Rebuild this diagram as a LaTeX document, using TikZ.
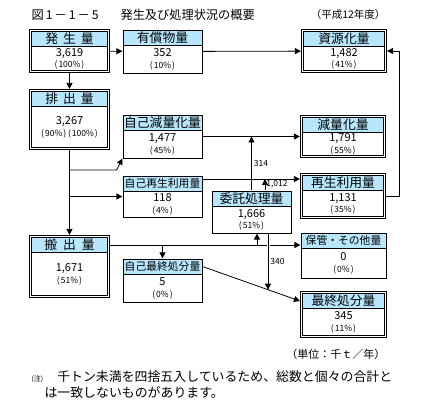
\documentclass[tikz,border=0pt]{standalone}
\usepackage{fontspec}
\setmainfont{Noto Sans CJK JP}
\usetikzlibrary{arrows.meta,calc,fit,positioning}
\definecolor{headblue}{RGB}{184,230,252}
\tikzset{
  frame/.style={draw, line width=.8pt, fill=white, inner sep=0pt},
  head/.style={draw, line width=.8pt, fill=headblue, inner sep=0pt, minimum height=15pt, font=\fontsize{12.8}{13}\selectfont},
  body/.style={align=center, inner sep=0pt, font=\fontsize{11}{11.5}\selectfont},
  sbox/.style={inner sep=0pt},
  dbox/.style={draw, line width=.8pt, inner sep=1.8pt},
  arr/.style={-{Triangle[length=6pt,width=6pt]}, line width=.8pt},
  lbl/.style={font=\fontsize{8.5}{9}\selectfont, inner sep=2pt},
}
\newcommand{\pc}[1]{{\fontsize{8.5}{9}\selectfont(\kern1pt#1\%\kern1pt)}}
\newcommand{\narrow}{\fontsize{10.8}{11}\selectfont}
% box: [sbox/dbox]{name}{center}{width}{height}{header}{body}
\newcommand{\flowbox}[7][sbox]{%
  \node[frame, minimum width=#4, minimum height=#5] (#2-in) at (#3) {};
  \node[head, minimum width=#4, anchor=north] (#2-h) at (#2-in.north) {#6};
  \node[body] (#2-t) at ($(#2-h.south)!.5!(#2-in.south)$) {#7};
  \node[#1, fit=(#2-in)] (#2) {};
}
\begin{document}
\begin{tikzpicture}[x=1pt, y=-1pt]
\useasboundingbox (0,0) rectangle (431,411);

\node[anchor=west, font=\fontsize{12.2}{12}\selectfont] (title) at (28,15) {図\,1\,－\,1\,－\,5\hspace{1.8em}発生及び処理状況の概要};
\node[anchor=east, font=\fontsize{10.5}{11}\selectfont] (year) at (389,15) {（平成12年度）};

\flowbox[dbox]{hassei}{69.5,51}{76}{39}{発\hspace{5pt}生\hspace{5pt}量}{3,619\\\pc{100}}
\flowbox{yusho}{162.5,51.5}{79}{43}{有償物量}{352\\\pc{10}}
\flowbox[dbox]{shigen}{344,51}{81}{39}{資源化量}{1,482\\\pc{41}}
\flowbox[dbox]{haishutsu}{69.5,119.5}{76}{56}{排\hspace{5pt}出\hspace{5pt}量}{3,267\\\pc{90}\,\pc{100}}
\flowbox{jikogen}{162.5,136.5}{79}{43}{自己減量化量}{1,477\\\pc{45}}
\flowbox[dbox]{genryo}{343,136.5}{81}{38}{減量化量}{1,791\\\pc{55}}
\flowbox{jikosai}{162.5,196.5}{79}{41}{{\narrow 自己再生利用量}}{118\\\pc{4}}
\flowbox[dbox]{saisei}{343,196}{81}{41}{再生利用量}{1,131\\\pc{35}}
\flowbox{itaku}{251.5,212}{79}{42}{委託処理量}{1,666\\\pc{51}}
\flowbox[dbox]{hanshutsu}{69.5,266.5}{76}{58}{搬\hspace{6pt}出\hspace{6pt}量}{1,671\\\pc{51}}
\flowbox{jikoshobun}{162.5,280.5}{79}{43}{{\narrow 自己最終処分量}}{5\\\pc{0}}
\flowbox{hokan}{343.5,255.5}{85}{45}{{\narrow 保管・その他量}}{0\\\pc{0}}
\flowbox[dbox]{saishu}{343.5,314.5}{82}{42}{最終処分量}{345\\\pc{11}}

\draw[arr] (hassei) -- (yusho);
\draw[arr] (yusho) -- (shigen);
\draw[arr] (hassei) -- (haishutsu);
\draw[arr] (haishutsu) -- (hanshutsu);
\draw[arr] ($(haishutsu.south)+(0,20)$) -- ++(47,0) -- (jikogen.south west);
\draw[arr] (haishutsu.south |- jikosai.west) -- (jikosai.west);
\draw[arr] (jikogen) -- (genryo);
\coordinate (rline) at (0,179);
\draw[arr] (jikosai.east |- rline) -- (saisei.west |- rline);
\draw[arr] (itaku.north) -- (itaku.north |- jikogen.east) node[lbl, midway, right] {314};
\coordinate (up1) at ($(itaku.north)+(13.5,0)$);
\draw[arr] (up1) -- (up1 |- rline) node[lbl, anchor=north west, inner sep=1pt] {1,012};
\draw[arr] (saisei.east) -- ++(13,0) |- (shigen.east);

\draw[arr] (hanshutsu.east |- hanshutsu-h) -- (hokan.west |- hanshutsu-h);
\draw[arr] (jikoshobun.north |- hanshutsu-h) -- (jikoshobun.north);
\coordinate (up2) at ($(itaku.south)+(5.5,0)$);
\draw[arr] (up2 |- hanshutsu-h) -- (up2);
\draw[arr] (jikoshobun-h.east) -- coordinate[pos=.673] (meet) (saishu.west |- saishu-h);
\draw[arr, preaction={draw=white, line width=3pt, -, shorten >=7pt}] (meet |- itaku.south) -- (meet) node[lbl, midway, right] {340};

\node[anchor=east, font=\fontsize{11}{11}\selectfont] (unit) at (389,354) {（単位：千ｔ／年）};
\node[anchor=west, font=\fontsize{12.9}{13}\selectfont] (note1) at (28,377) {{\fontsize{7}{7}\selectfont (注)}\hspace{14pt}千トン未満を四捨五入しているため、総数と個々の合計と};
\node[anchor=west, font=\fontsize{12.9}{13}\selectfont] (note2) at (41,393) {は一致しないものがあります。};
\end{tikzpicture}
\end{document}
